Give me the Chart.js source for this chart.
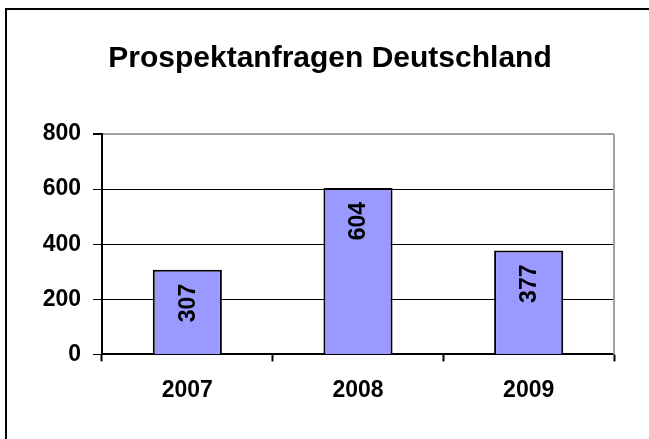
<!DOCTYPE html>
<html>
<head>
<meta charset="utf-8">
<script src="https://cdn.jsdelivr.net/npm/chart.js@4"></script>
<style>
  html, body { margin: 0; padding: 0; background: #fff; }
  #wrap { position: relative; width: 649px; height: 439px; overflow: hidden; }
  #frame { position: absolute; left: 5px; top: 8px; width: 700px; height: 500px;
           border-left: 2px solid #000; border-top: 2px solid #000; pointer-events: none; }
</style>
</head>
<body>
<div id="wrap">
  <canvas id="c" width="649" height="439"></canvas>
  <div id="frame"></div>
</div>
<script>
const titleText = 'Prospektanfragen Deutschland';
const categories = ['2007', '2008', '2009'];
const values = [307, 604, 377];
const yTicks = [0, 200, 400, 600, 800];

const FONT = '"Liberation Sans", Arial, sans-serif';

const chartTitle = {
  id: 'chartTitle',
  afterDraw(chart) {
    const ctx = chart.ctx;
    ctx.save();
    ctx.fillStyle = '#000';
    ctx.font = 'bold 30px ' + FONT;
    ctx.textAlign = 'center';
    ctx.textBaseline = 'alphabetic';
    ctx.fillText(titleText, 330, 67);
    ctx.restore();
  }
};

const plotFrame = {
  id: 'plotFrame',
  afterDraw(chart) {
    const a = chart.chartArea, ctx = chart.ctx;
    ctx.save();
    ctx.strokeStyle = '#a0a0a0';
    ctx.lineWidth = 2;
    ctx.beginPath();
    ctx.moveTo(a.right, a.top);
    ctx.lineTo(a.right, a.bottom);
    ctx.stroke();
    ctx.restore();
  }
};

const valueLabels = {
  id: 'valueLabels',
  afterDatasetsDraw(chart) {
    const ctx = chart.ctx;
    const meta = chart.getDatasetMeta(0);
    ctx.save();
    ctx.fillStyle = '#000';
    ctx.font = 'bold 23px ' + FONT;
    meta.data.forEach((bar, i) => {
      ctx.save();
      ctx.translate(bar.x, bar.y + 14);
      ctx.rotate(-Math.PI / 2);
      ctx.textAlign = 'right';
      ctx.textBaseline = 'middle';
      ctx.fillText(String(values[i]), 0, 1);
      ctx.restore();
    });
    ctx.restore();
  }
};

new Chart(document.getElementById('c'), {
  type: 'bar',
  data: {
    labels: categories,
    datasets: [{
      data: values,
      backgroundColor: '#9999ff',
      borderColor: '#000',
      borderWidth: 2,
      borderSkipped: 'bottom',
      categoryPercentage: 1,
      barPercentage: 0.405
    }]
  },
  options: {
    responsive: false,
    animation: false,
    devicePixelRatio: 1,
    layout: { padding: { left: 40, right: 35, top: 134, bottom: 20 } },
    plugins: {
      legend: { display: false },
      tooltip: { enabled: false },
      title: { display: false }
    },
    scales: {
      x: {
        type: 'category',
        offset: true,
        grid: { offset: true, drawOnChartArea: false, drawTicks: true, tickLength: 7, tickColor: '#000', tickWidth: 2 },
        border: { color: '#000', width: 2 },
        ticks: { color: '#000', font: { family: FONT, size: 23, weight: 'bold' }, padding: 15, maxRotation: 0 }
      },
      y: {
        min: 0,
        max: 800,
        afterFit(scale) { scale.width = 62; },
        afterBuildTicks(scale) { scale.ticks = yTicks.map(v => ({ value: v })); },
        grid: {
          color: (c) => (c.tick && c.tick.value === 800) ? '#a0a0a0' : '#000',
          lineWidth: (c) => (c.tick && c.tick.value === 800) ? 2 : 1,
          tickColor: '#000',
          tickLength: 9,
          drawTicks: true
        },
        border: { color: '#000', width: 2 },
        ticks: { color: '#000', font: { family: FONT, size: 23, weight: 'bold' }, padding: 12 }
      }
    }
  },
  plugins: [plotFrame, valueLabels, chartTitle]
});
</script>
</body>
</html>
